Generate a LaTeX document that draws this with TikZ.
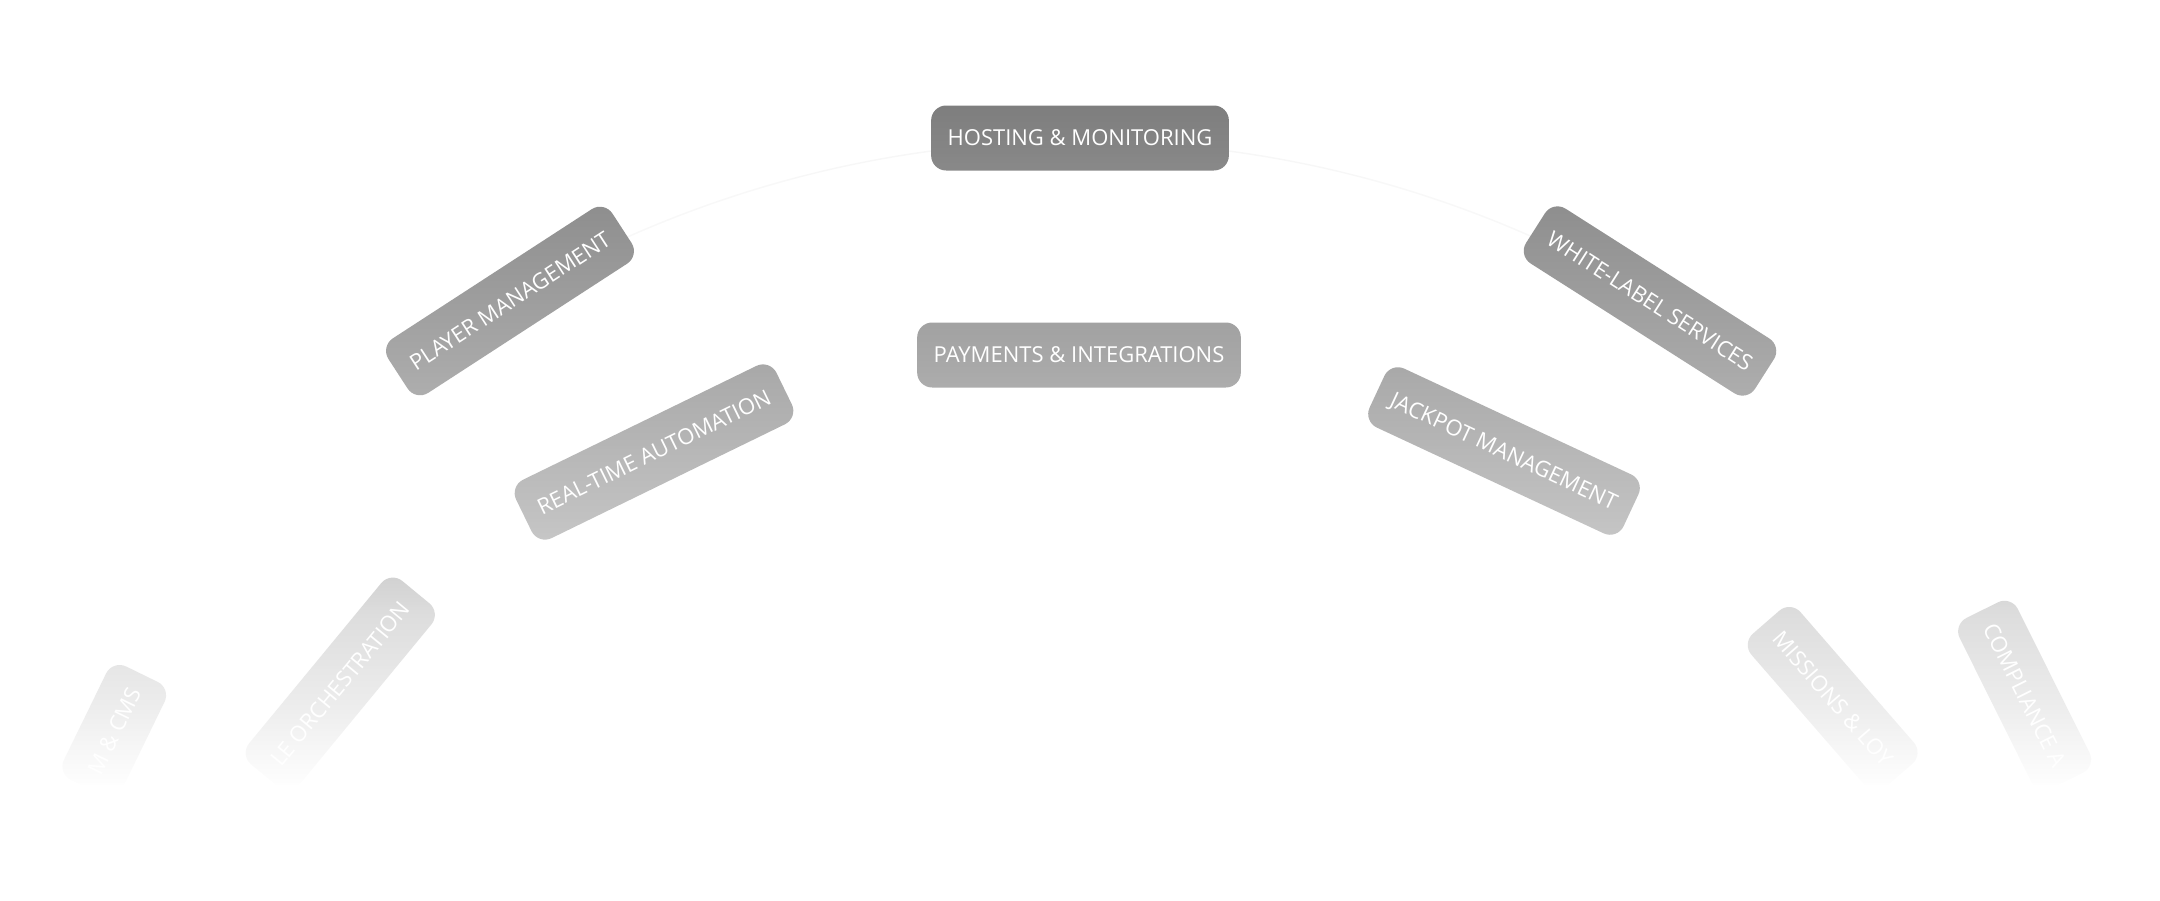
\documentclass[tikz,border=0pt]{standalone}
\usepackage{fontspec}
\setmainfont{Open Sans}
\usetikzlibrary{fadings}

\definecolor{pillgray}{HTML}{7A7A7A}
\definecolor{orbitgray}{HTML}{F7F7F7}

% white veil: clear at the top, full at the bottom (the path is fitted to 25bp..75bp)
\pgfdeclareverticalshading{veilshade}{100bp}{color(0bp)=(white); color(25bp)=(white); color(31bp)=(black!14); color(37bp)=(black!25); color(43bp)=(black!44); color(55.5bp)=(black!66); color(75bp)=(black); color(100bp)=(black)}
\pgfdeclarefading{veilfade}{\pgfuseshading{veilshade}}

\tikzset{
    pill/.style={fill=pillgray, text=white, rounded corners=15pt, minimum height=65pt,
        inner xsep=16.5pt, inner ysep=0pt, text height=15.7pt, text depth=0pt,
        font=\fontsize{22}{26}\selectfont},
    orbit/.style={draw=orbitgray, line width=1.5pt},
}

\begin{document}
\begin{tikzpicture}[x=1pt, y=-1pt]
    \useasboundingbox (0,0) rectangle (2160,900);

    %faint orbit behind the outer ring
    \coordinate (hub) at (1080,1256);
    \draw[orbit] (hub) ++(-120.8:1115) arc[start angle=-120.8, end angle=-59.2, radius=1115];

    %outer ring
    \node[pill] (hosting) at (1080,138) {HOSTING \& MONITORING};
    \node[pill, rotate=33] (player) at (510,301) {PLAYER MANAGEMENT};
    \node[pill, rotate=-32.5] (whitelabel) at (1650,301) {WHITE-LABEL SERVICES};
    \node[pill, rotate=64, anchor=east] (cms) at (142,674) {M \& CMS};
    \node[pill, rotate=-63.5, anchor=west] (compliance) at (1982,610) {COMPLIANCE A};

    %inner ring
    \node[pill] (payments) at (1079,355) {PAYMENTS \& INTEGRATIONS};
    \node[pill, rotate=26] (realtime) at (654,452) {REAL-TIME AUTOMATION};
    \node[pill, rotate=-25] (jackpot) at (1504,451) {JACKPOT MANAGEMENT};
    \node[pill, rotate=50.5, anchor=east] (orchestration) at (416,592) {LE ORCHESTRATION};
    \node[pill, rotate=-49, anchor=west] (missions) at (1766,622) {MISSIONS \& LOY};

    %fade everything out towards the bottom
    \fill[white, path fading=veilfade] (0,80) rectangle (2160,785);
    \fill[white] (0,785) rectangle (2160,900);
\end{tikzpicture}
\end{document}
